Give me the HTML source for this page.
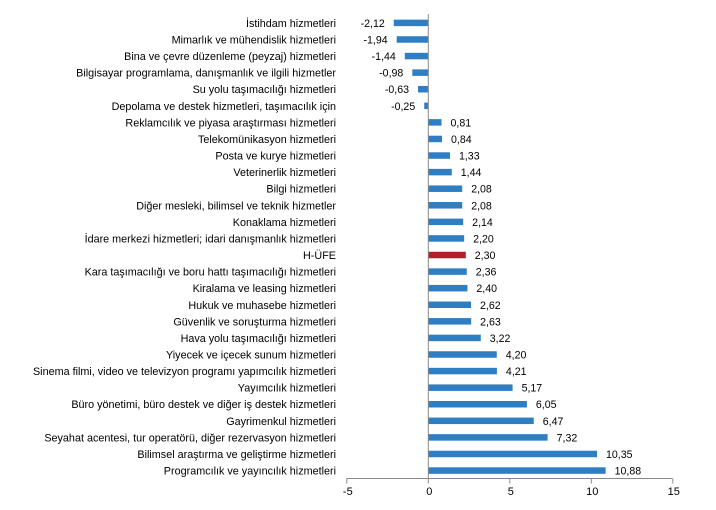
<!DOCTYPE html>
<html>
<head>
<meta charset="utf-8">
<style>
html,body{margin:0;padding:0;background:#fff;}
svg{display:block;}
text{font-family:"Liberation Sans",Arial,sans-serif;fill:#000;}
.c{font-size:10.8px;text-anchor:end;}
.v{font-size:10.6px;}
.t{font-size:11px;text-anchor:middle;}
</style>
</head>
<body>
<svg width="716" height="510" viewBox="0 0 716 510" xmlns="http://www.w3.org/2000/svg">
<rect width="716" height="510" fill="#fff"/>
<g id="bars"></g>
<script>
(function(){
var data=[
["İstihdam hizmetleri",-2.12],
["Mimarlık ve mühendislik hizmetleri",-1.94],
["Bina ve çevre düzenleme (peyzaj) hizmetleri",-1.44],
["Bilgisayar programlama, danışmanlık ve ilgili hizmetler",-0.98],
["Su yolu taşımacılığı hizmetleri",-0.63],
["Depolama ve destek hizmetleri, taşımacılık için",-0.25],
["Reklamcılık ve piyasa araştırması hizmetleri",0.81],
["Telekomünikasyon hizmetleri",0.84],
["Posta ve kurye hizmetleri",1.33],
["Veterinerlik hizmetleri",1.44],
["Bilgi hizmetleri",2.08],
["Diğer mesleki, bilimsel ve teknik hizmetler",2.08],
["Konaklama hizmetleri",2.14],
["İdare merkezi hizmetleri; idari danışmanlık hizmetleri",2.20],
["H-ÜFE",2.30],
["Kara taşımacılığı ve boru hattı taşımacılığı hizmetleri",2.36],
["Kiralama ve leasing hizmetleri",2.40],
["Hukuk ve muhasebe hizmetleri",2.62],
["Güvenlik ve soruşturma hizmetleri",2.63],
["Hava yolu taşımacılığı hizmetleri",3.22],
["Yiyecek ve içecek sunum hizmetleri",4.20],
["Sinema filmi, video ve televizyon programı yapımcılık hizmetleri",4.21],
["Yayımcılık hizmetleri",5.17],
["Büro yönetimi, büro destek ve diğer iş destek hizmetleri",6.05],
["Gayrimenkul hizmetleri",6.47],
["Seyahat acentesi, tur operatörü, diğer rezervasyon hizmetleri",7.32],
["Bilimsel araştırma ve geliştirme hizmetleri",10.35],
["Programcılık ve yayıncılık hizmetleri",10.88]
];
var NS="http://www.w3.org/2000/svg";
var g=document.getElementById("bars");
var x0=428.3,u=16.3,y0=22.9,dy=16.58,bh=6.5;
function el(n,a,t){var e=document.createElementNS(NS,n);for(var k in a)e.setAttribute(k,a[k]);if(t!==undefined)e.textContent=t;g.appendChild(e);return e;}
data.forEach(function(d,i){
  var cy=y0+i*dy,v=d[1];
  var xa=v<0?x0+v*u:x0, w=Math.abs(v)*u;
  el("rect",{x:xa,y:cy-bh/2,width:w,height:bh,fill:d[0]=="H-ÜFE"?"#B0202A":"#2E7EC4"});
  el("text",{x:336,y:cy+4,"class":"c"},d[0]);
  var s=v.toFixed(2).replace(".",",");
  if(v<0) el("text",{x:xa-9,y:cy+4,"class":"v","text-anchor":"end"},s);
  else el("text",{x:x0+w+9,y:cy+4,"class":"v"},s);
});
// zero line
el("line",{x1:x0,y1:14,x2:x0,y2:478.5,stroke:"#888",
"stroke-width":1});
// x axis
el("line",{x1:346.8,y1:478.5,x2:672.3,y2:478.5,stroke:"#888","stroke-width":1});
[-5,0,5,10,15].forEach(function(t){
  var x=x0+t*u;
  el("line",{x1:x,y1:478.5,x2:x,y2:483.5,stroke:"#888","stroke-width":1});
  el("text",{x:x+1,y:495,"class":"t"},String(t));
});
})();
</script>
</svg>
</body>
</html>
